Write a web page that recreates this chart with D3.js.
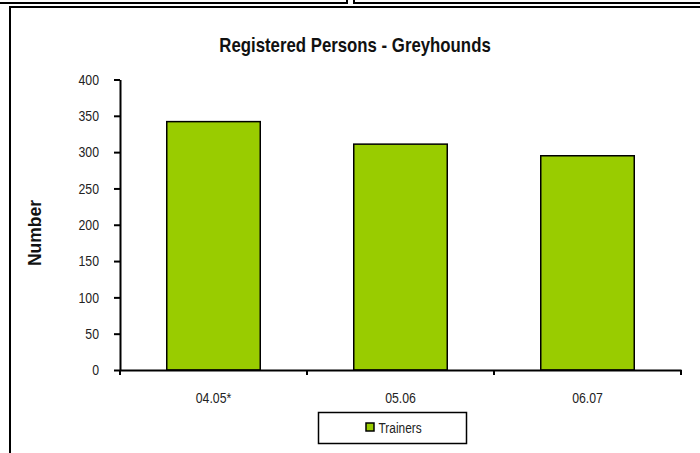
<!DOCTYPE html>
<html><head><meta charset="utf-8">
<script src="https://cdn.jsdelivr.net/npm/d3@7"></script>
<style>
html,body{margin:0;padding:0;background:#fff;}
svg{display:block;}
text{font-family:"Liberation Sans",Arial,sans-serif;}
</style></head>
<body>
<svg id="chart" width="700" height="453"></svg>
<script>
const categories = ["04.05*", "05.06", "06.07"];
const trainers = [342, 311, 295];
const yTicks = [0, 50, 100, 150, 200, 250, 300, 350, 400];
const seriesName = "Trainers";
const title = "Registered Persons - Greyhounds";
const yTitle = "Number";

(function () {
const svg = d3.select("#chart");
const W = 700, H = 453;
const NARROW = 0.82;
// emulate a condensed face by squeezing text horizontally around its anchor
function squeeze(sel, s) {
  sel.each(function () {
    const t = d3.select(this);
    const tx = +t.attr("x") || 0, ty = +t.attr("y") || 0;
    t.attr("x", 0).attr("y", 0).attr("transform", `translate(${tx},${ty}) scale(${s},1)`);
  });
}
svg.append("rect").attr("width", W).attr("height", H).attr("fill", "#fff");

// frames at the top (cropped neighbouring boxes)
svg.append("rect").attr("x", -10).attr("y", -10).attr("width", 357).attr("height", 13)
  .attr("fill", "none").attr("stroke", "#000").attr("stroke-width", 2);
svg.append("rect").attr("x", 354).attr("y", -10).attr("width", 400).attr("height", 13)
  .attr("fill", "none").attr("stroke", "#000").attr("stroke-width", 2);
// chart area border
svg.append("rect").attr("x", 10).attr("y", 7).attr("width", 800).attr("height", 600)
  .attr("fill", "none").attr("stroke", "#000").attr("stroke-width", 2);

const pLeft = 120, pRight = 681, pTop = 79.5, pBottom = 370;
const x = d3.scaleBand().domain(categories).range([pLeft, pRight]).paddingInner(0.5).paddingOuter(0.25);
const y = d3.scaleLinear().domain([0, 400]).range([pBottom, pTop]);

// bars
svg.append("g").selectAll("rect").data(trainers).join("rect")
  .attr("x", (d, i) => x(categories[i]))
  .attr("y", d => y(d))
  .attr("width", x.bandwidth())
  .attr("height", d => y(0) - y(d))
  .attr("fill", "#99cc00")
  .attr("stroke", "#000").attr("stroke-width", 1.5);

// y axis
const yAxis = svg.append("g").attr("transform", `translate(${pLeft},0)`)
  .call(d3.axisLeft(y).tickValues(yTicks).tickSize(6).tickPadding(15).tickSizeOuter(0));
yAxis.select(".domain").attr("stroke", "#000").attr("stroke-width", 2);
yAxis.selectAll(".tick line").attr("stroke", "#000").attr("stroke-width", 2);
yAxis.selectAll(".tick text").attr("font-size", 15).attr("font-family", null).attr("fill", "#222")
  .call(squeeze, NARROW);

// x axis
const xAxis = svg.append("g").attr("transform", `translate(0,${pBottom})`)
  .call(d3.axisBottom(x).tickSize(0).tickPadding(22).tickSizeOuter(0));
xAxis.select(".domain").attr("stroke", "#000").attr("stroke-width", 2);
xAxis.selectAll(".tick text").attr("font-size", 15).attr("font-family", null).attr("fill", "#222")
  .call(squeeze, NARROW);
d3.selectAll("g.tick text, g").attr("font-family", null);
// category boundary ticks
const bounds = d3.range(categories.length + 1).map(i => pLeft + i * (pRight - pLeft) / categories.length);
svg.append("g").selectAll("line").data(bounds).join("line")
  .attr("x1", d => d).attr("x2", d => d).attr("y1", pBottom).attr("y2", pBottom + 5)
  .attr("stroke", "#000").attr("stroke-width", 2);

// title
svg.append("text").attr("x", 355).attr("y", 52)
  .attr("text-anchor", "middle").attr("font-size", 20).attr("font-weight", "bold").attr("fill", "#111")
  .text(title).call(squeeze, 0.84);

// y axis title
svg.append("text").attr("transform", "translate(41,233) rotate(-90)")
  .attr("text-anchor", "middle")
  .attr("font-size", 17.5).attr("font-weight", "bold").attr("fill", "#111")
  .text(yTitle);

// legend
const lg = svg.append("g");
lg.append("rect").attr("x", 318.5).attr("y", 412.5).attr("width", 148).attr("height", 31)
  .attr("fill", "#fff").attr("stroke", "#000").attr("stroke-width", 1.5);
lg.append("rect").attr("x", 366).attr("y", 423).attr("width", 8).attr("height", 8)
  .attr("fill", "#99cc00").attr("stroke", "#000").attr("stroke-width", 1.5);
lg.append("text").attr("x", 378.5).attr("y", 432.5)
  .attr("font-size", 14.5).attr("fill", "#222").text(seriesName).call(squeeze, NARROW);
})();
</script>
</body></html>
